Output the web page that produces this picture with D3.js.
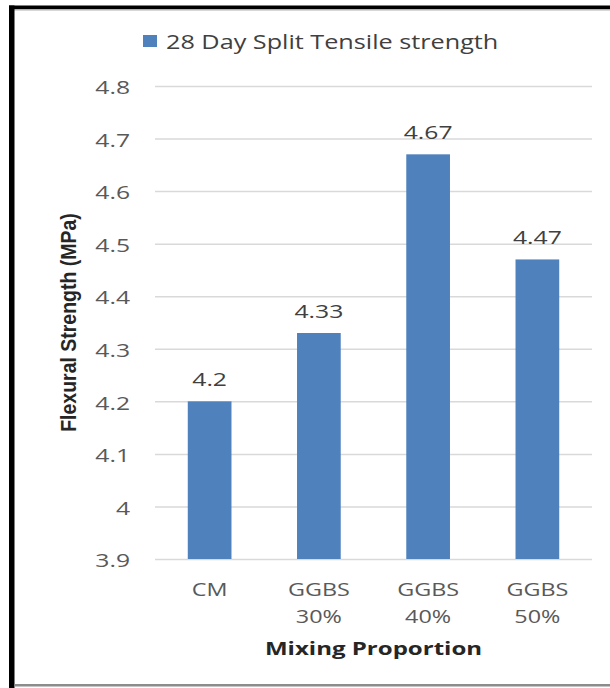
<!DOCTYPE html>
<html>
<head>
<meta charset="utf-8">
<script src="https://cdn.jsdelivr.net/npm/d3@7/dist/d3.min.js"></script>
<style>
  html, body { margin: 0; padding: 0; background: #fff; }
  svg { display: block; }
</style>
</head>
<body>
<svg id="chart" width="610" height="688"></svg>
<script>
// Mix designs and their 28-day split tensile strength (MPa)
const categories = [["CM"], ["GGBS", "30%"], ["GGBS", "40%"], ["GGBS", "50%"]];
const strength = [4.2, 4.33, 4.67, 4.47];
const valueLabels = ["4.2", "4.33", "4.67", "4.47"];
const yTicks = [3.9, 4.0, 4.1, 4.2, 4.3, 4.4, 4.5, 4.6, 4.7, 4.8];
const seriesName = "28 Day Split Tensile strength";
const xTitle = "Mixing Proportion";
const yTitle = "Flexural Strength (MPa)";

const svg = d3.select("#chart");
const W = 610, H = 688;
const plot = { left: 155, right: 592, top: 86, bottom: 559 };
const barColor = "#4F81BD";
const textColor = "#595959";
const font = "'Open Sans', 'Noto Sans', sans-serif";
const stretch = 1.3;   // the figure's text is drawn wide

// Frame around the figure
svg.append("rect").attr("x", 0).attr("y", 0).attr("width", W).attr("height", H).attr("fill", "#fff");
svg.append("rect").attr("x", 9).attr("y", 5.5).attr("width", W - 9).attr("height", 3.5).attr("fill", "#000");
svg.append("rect").attr("x", 9).attr("y", 9).attr("width", W - 9).attr("height", 1.5).attr("fill", "#b0b0b0");
svg.append("rect").attr("x", 9).attr("y", 5.5).attr("width", 5.5).attr("height", H - 5.5).attr("fill", "#000");
svg.append("rect").attr("x", 14.5).attr("y", 684).attr("width", W - 14.5).attr("height", 2.5).attr("fill", "#8c8c8c");

const x = d3.scaleBand()
  .domain(d3.range(categories.length))
  .range([plot.left, plot.right])
  .paddingInner(0.6)
  .paddingOuter(0.3);

const y = d3.scaleLinear()
  .domain([3.9, 4.8])
  .range([plot.bottom, plot.top]);

// Horizontal gridlines with tick labels
const yAxis = d3.axisLeft(y)
  .tickValues(yTicks)
  .tickSize(-(plot.right - plot.left))
  .tickPadding(25)
  .tickFormat(d => String(+d.toFixed(1)));

const gy = svg.append("g")
  .attr("transform", `translate(${plot.left},0)`)
  .call(yAxis);
gy.select(".domain").remove();
gy.selectAll(".tick line").attr("stroke", "#d9d9d9").attr("stroke-width", 1.5);
gy.selectAll(".tick text")
  .attr("x", 0)
  .attr("dy", null)
  .attr("dominant-baseline", "central")
  .attr("transform", `translate(-25,0) scale(${stretch},1)`)
  .attr("fill", textColor)
  .style("font-family", font)
  .style("font-size", "19px");

// Bars
svg.append("g").selectAll("rect")
  .data(strength)
  .join("rect")
  .attr("x", (d, i) => x(i))
  .attr("width", x.bandwidth())
  .attr("y", d => y(d))
  .attr("height", d => y(3.9) - y(d))
  .attr("fill", barColor);

// Value labels above bars
svg.append("g").selectAll("text")
  .data(strength)
  .join("text")
  .attr("transform", (d, i) => `translate(${x(i) + x.bandwidth() / 2},${y(d) - 15}) scale(${stretch},1)`)
  .attr("text-anchor", "middle")
  .attr("fill", "#404040")
  .style("font-family", font)
  .style("font-size", "19px")
  .text((d, i) => valueLabels[i]);

// Category labels (two lines where needed)
svg.append("g").selectAll("text")
  .data(categories)
  .join("text")
  .attr("transform", (d, i) => `translate(${x(i) + x.bandwidth() / 2},596) scale(${stretch},1)`)
  .attr("text-anchor", "middle")
  .attr("fill", textColor)
  .style("font-family", font)
  .style("font-size", "18px")
  .selectAll("tspan")
  .data(d => d)
  .join("tspan")
  .attr("x", 0)
  .attr("dy", (d, i) => i === 0 ? 0 : 27)
  .text(d => d);

// Axis titles
svg.append("text")
  .attr("transform", `translate(${(plot.left + plot.right) / 2},655) scale(${stretch},1)`)
  .attr("text-anchor", "middle")
  .attr("fill", "#262626")
  .style("font-family", font)
  .style("font-weight", "bold")
  .style("font-size", "18.5px")
  .text(xTitle);

svg.append("text")
  .attr("transform", `translate(76,${(plot.top + plot.bottom) / 2}) scale(1.12,1) rotate(-90)`)
  .attr("text-anchor", "middle")
  .attr("fill", "#262626")
  .style("font-family", "'Liberation Sans Narrow', 'Arial Narrow', sans-serif")
  .style("font-weight", "bold")
  .style("font-size", "19.5px")
  .text(yTitle);

// Legend
const legend = svg.append("g").attr("transform", "translate(143,35)");
legend.append("rect").attr("width", 14).attr("height", 12).attr("fill", barColor);
legend.append("text")
  .attr("transform", `translate(23,14) scale(${stretch},1)`)
  .attr("fill", "#404040")
  .style("font-family", font)
  .style("font-size", "19.4px")
  .text(seriesName);
</script>
</body>
</html>
